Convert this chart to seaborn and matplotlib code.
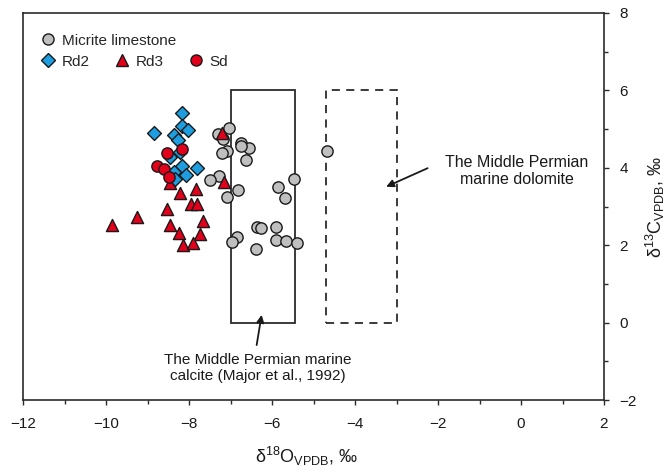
import matplotlib
matplotlib.use("Agg")
import matplotlib.pyplot as plt
from matplotlib.lines import Line2D
from matplotlib.patches import Rectangle
from matplotlib.ticker import MultipleLocator
import numpy as np
import pandas as pd
import seaborn as sns

# --- measured isotope values (d18O, d13C; permil VPDB) ---
micrite_d18o = [-7.03, -7.29, -7.19, -6.75, -6.55, -6.75, -7.09, -7.21, -6.63, -4.67,
                -7.28, -7.49, -5.47, -5.86, -6.81, -7.09, -5.69, -6.35, -6.27, -5.90,
                -6.85, -6.97, -5.90, -5.66, -5.39, -6.39]
micrite_d13c = [5.02, 4.87, 4.74, 4.65, 4.51, 4.56, 4.44, 4.37, 4.19, 4.43,
                3.79, 3.68, 3.70, 3.50, 3.43, 3.25, 3.21, 2.46, 2.44, 2.46,
                2.22, 2.07, 2.13, 2.12, 2.05, 1.91]

rd2_d18o = [-8.16, -8.84, -8.16, -8.02, -8.36, -8.26, -8.22, -8.46, -8.18, -7.81,
            -8.36, -8.07, -8.34]
rd2_d13c = [5.42, 4.89, 5.08, 4.98, 4.85, 4.72, 4.42, 4.29, 4.05, 4.00,
            3.90, 3.81, 3.70]

rd3_d18o = [-7.20, -7.16, -8.46, -8.22, -7.83, -7.96, -7.81, -8.54, -9.26, -9.86,
            -7.66, -8.46, -8.24, -7.73, -8.14, -7.91]
rd3_d13c = [4.89, 3.64, 3.62, 3.36, 3.44, 3.06, 3.06, 2.94, 2.72, 2.52,
            2.63, 2.52, 2.31, 2.29, 2.00, 2.05]

sd_d18o = [-8.54, -8.18, -8.78, -8.60, -8.48]
sd_d13c = [4.39, 4.48, 4.05, 3.96, 3.75]

# reference fields: (d18O min, d18O max, d13C min, d13C max)
calcite_field = (-7.0, -5.45, 0.0, 6.0)
dolomite_field = (-4.7, -3.0, 0.0, 6.0)

group_names = ["Micrite limestone", "Rd3", "Rd2", "Sd"]
group_labels_row2 = ["Rd2", "Rd3", "Sd"]

frames = []
for name, xs, ys in [("Micrite limestone", micrite_d18o, micrite_d13c),
                     ("Rd3", rd3_d18o, rd3_d13c),
                     ("Rd2", rd2_d18o, rd2_d13c),
                     ("Sd", sd_d18o, sd_d13c)]:
    frames.append(pd.DataFrame({"d18O": xs, "d13C": ys, "group": name}))
df = pd.concat(frames, ignore_index=True)

sns.set_theme(style="white")
plt.rcParams["font.family"] = ["Liberation Sans", "DejaVu Sans"]
plt.rcParams["mathtext.fontset"] = "custom"
plt.rcParams["mathtext.rm"] = "Liberation Sans"
plt.rcParams["mathtext.it"] = "Liberation Sans:italic"
plt.rcParams["mathtext.bf"] = "Liberation Sans:bold"

INK = "#2b2b2b"
style = {
    "Micrite limestone": dict(marker="o", color="#bfbfbf", s=66),
    "Rd3": dict(marker="^", color="#e3001b", s=76),
    "Rd2": dict(marker="D", color="#1e9ee0", s=50),
    "Sd": dict(marker="o", color="#e3001b", s=66),
}

fig = plt.figure(figsize=(6.67, 4.71), dpi=100)
ax = fig.add_axes([23 / 667, 1 - 400 / 471, (604 - 23) / 667, (400 - 13) / 471])

# reference fields
cx0, cx1, cy0, cy1 = calcite_field
ax.add_patch(Rectangle((cx0, cy0), cx1 - cx0, cy1 - cy0, fill=False,
                       edgecolor=INK, lw=1.3, zorder=1))
dx0, dx1, dy0, dy1 = dolomite_field
ax.add_patch(Rectangle((dx0, dy0), dx1 - dx0, dy1 - dy0, fill=False,
                       edgecolor=INK, lw=1.3, linestyle=(0, (4.5, 3.5)), zorder=1))

for i, name in enumerate(group_names):
    st = style[name]
    sns.scatterplot(data=df[df["group"] == name], x="d18O", y="d13C",
                    marker=st["marker"], color=st["color"], s=st["s"],
                    edgecolor="#1a1a1a", linewidth=1.0, legend=False,
                    ax=ax, zorder=3 + i)

ax.set_xlim(-12, 2)
ax.set_ylim(-2, 8)
ax.xaxis.set_major_locator(MultipleLocator(2))
ax.xaxis.set_minor_locator(MultipleLocator(1))
ax.yaxis.set_major_locator(MultipleLocator(2))
ax.yaxis.set_minor_locator(MultipleLocator(1))
ax.yaxis.tick_right()
ax.yaxis.set_label_position("right")
ax.tick_params(axis="x", which="both", bottom=True, top=False, direction="out",
               color=INK, width=1.0, labelsize=11, labelcolor="#1a1a1a", pad=9)
ax.tick_params(axis="y", which="both", right=True, left=False, direction="out",
               color=INK, width=1.0, labelsize=11, labelcolor="#1a1a1a", pad=8)
ax.tick_params(which="major", length=3.3)
ax.tick_params(which="minor", length=2.6)
for sp in ax.spines.values():
    sp.set_color(INK)
    sp.set_linewidth(1.2)

ax.set_xlabel("δ$^{18}$O$_{\\mathrm{VPDB}}$, ‰", fontsize=13, color="#1a1a1a")
ax.xaxis.set_label_coords((307 - 23) / 581, (400 - 445) / 387)
ax.set_ylabel("δ$^{13}$C$_{\\mathrm{VPDB}}$, ‰", fontsize=13, color="#1a1a1a", labelpad=5)

# annotations
ax.text(-6.35, -1.17, "The Middle Permian marine\ncalcite (Major et al., 1992)",
        ha="center", va="center", fontsize=11, color="#1a1a1a", linespacing=1.2)
ax.annotate("", xy=(-6.25, 0.20), xytext=(-6.37, -0.58),
            arrowprops=dict(arrowstyle="-|>", color="#1a1a1a", lw=1.3,
                            mutation_scale=11, shrinkA=0, shrinkB=0))
ax.text(-0.1, 3.92, "The Middle Permian\nmarine dolomite",
        ha="center", va="center", fontsize=11.5, color="#1a1a1a", linespacing=1.15)
ax.annotate("", xy=(-3.25, 3.51), xytext=(-2.25, 3.99),
            arrowprops=dict(arrowstyle="-|>", color="#1a1a1a", lw=1.3,
                            mutation_scale=11, shrinkA=0, shrinkB=0))

# legend: one row for the limestone, one row for the dolomite/cement groups
def handle(name, ms):
    st = style[name]
    return Line2D([], [], linestyle="none", marker=st["marker"], markersize=ms,
                  markerfacecolor=st["color"], markeredgecolor="#1a1a1a",
                  markeredgewidth=1.0)

leg_kw = dict(frameon=False, fontsize=11, handlelength=1.0, handletextpad=0.4,
              borderpad=0, borderaxespad=0, loc="center left",
              bbox_transform=fig.transFigure)
leg1 = ax.legend([handle("Micrite limestone", 8)], ["Micrite limestone"],
                 bbox_to_anchor=(40.5 / 667, 1 - 40.7 / 471), **leg_kw)
ax.add_artist(leg1)
ms_row2 = {"Rd2": 7, "Rd3": 9, "Sd": 8}
ax.legend([handle(n, ms_row2[n]) for n in group_labels_row2], group_labels_row2,
          ncol=3, columnspacing=1.6,
          bbox_to_anchor=(40.5 / 667, 1 - 61.7 / 471), **leg_kw)

fig.savefig("out.png", dpi=100)
